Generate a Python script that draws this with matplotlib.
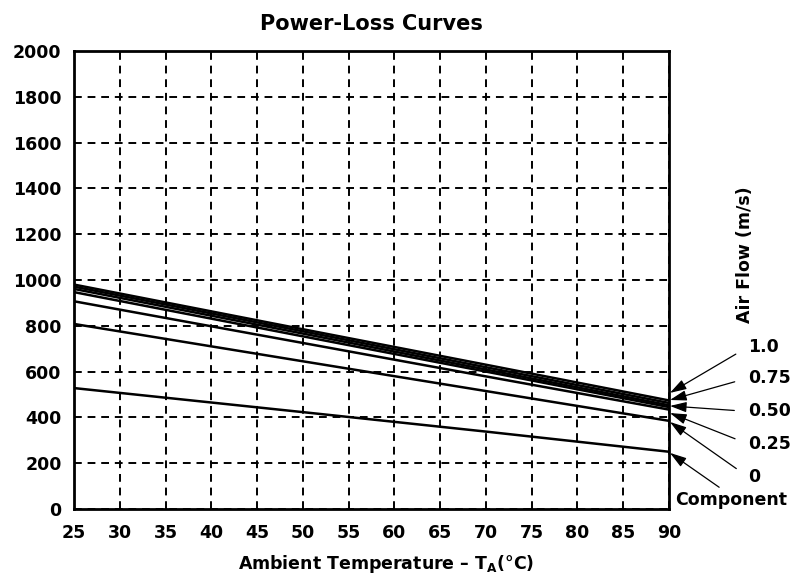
import matplotlib
matplotlib.use('Agg')
import matplotlib.pyplot as plt

plt.rcParams['font.family'] = ['DejaVu Sans']
plt.rcParams['font.weight'] = 'bold'
plt.rcParams['mathtext.fontset'] = 'custom'
plt.rcParams['mathtext.rm'] = 'DejaVu Sans:bold'
plt.rcParams['mathtext.bf'] = 'DejaVu Sans:bold'

temps = [25, 50, 70, 90]
flow_10 = [980, 785, 630, 474]
flow_075 = [971, 776, 619, 463]
flow_050 = [961, 766, 609, 453]
flow_025 = [947, 754, 600, 445]
flow_extra = [907, 725, 579, 434]
flow_0 = [808, 645, 515, 385]
component = [528, 423, 338, 250]

labels = ['1.0', '0.75', '0.50', '0.25', '0', 'Component']
arrow_tips = [507, 476, 450, 419, 380, 245]
label_y = [0.354, 0.286, 0.213, 0.142, 0.070, 0.020]

fig = plt.figure(figsize=(7.96, 5.86), dpi=100)
ax = fig.add_axes([0.093, 0.1314, 0.7475, 0.7816])

for s in [flow_10, flow_075, flow_050, flow_025, flow_extra, flow_0, component]:
    ax.plot(temps, s, color='black', lw=1.8, solid_capstyle='butt')

ax.set_xlim(25, 90)
ax.set_ylim(0, 2000)
ax.set_xticks(range(25, 91, 5))
ax.set_yticks(range(0, 2001, 200))
ax.tick_params(length=0, labelsize=12.5)
ax.tick_params(axis='x', pad=11)
ax.tick_params(axis='y', pad=9)
ax.grid(True, color='black', lw=1.4, linestyle=(0, (4, 3)))
for sp in ax.spines.values():
    sp.set_linewidth(2)

ax.set_title('Power-Loss Curves', fontsize=15, fontweight='bold', pad=15)
ax.set_xlabel(r'Ambient Temperature – $\mathregular{T_A}$(°C)', fontsize=12.5,
              fontweight='bold')
ax.xaxis.set_label_coords(0.524, -0.095)

ax.text(1.128, 0.555, 'Air Flow (m/s)', transform=ax.transAxes, rotation=90,
        ha='center', va='center', fontsize=12.5, fontweight='bold')

head = '-|>,head_length=0.8,head_width=0.25'
for lab, tip, ty in zip(labels, arrow_tips, label_y):
    if lab == 'Component':
        ax.annotate(lab, xy=(90.1, tip), xycoords='data',
                    xytext=(1.01, ty), textcoords='axes fraction',
                    ha='left', va='center', fontsize=12.5, fontweight='bold',
                    annotation_clip=False,
                    arrowprops=dict(arrowstyle=head, color='black', lw=0.9,
                                    relpos=(0.44, 1.0), shrinkA=1, shrinkB=0))
    else:
        ax.annotate(lab, xy=(90.1, tip), xycoords='data',
                    xytext=(1.133, ty), textcoords='axes fraction',
                    ha='left', va='center', fontsize=12.5, fontweight='bold',
                    annotation_clip=False,
                    arrowprops=dict(arrowstyle=head, color='black', lw=0.9,
                                    relpos=(0, 0.5), shrinkA=8, shrinkB=0))

fig.savefig('out.png', dpi=100)
